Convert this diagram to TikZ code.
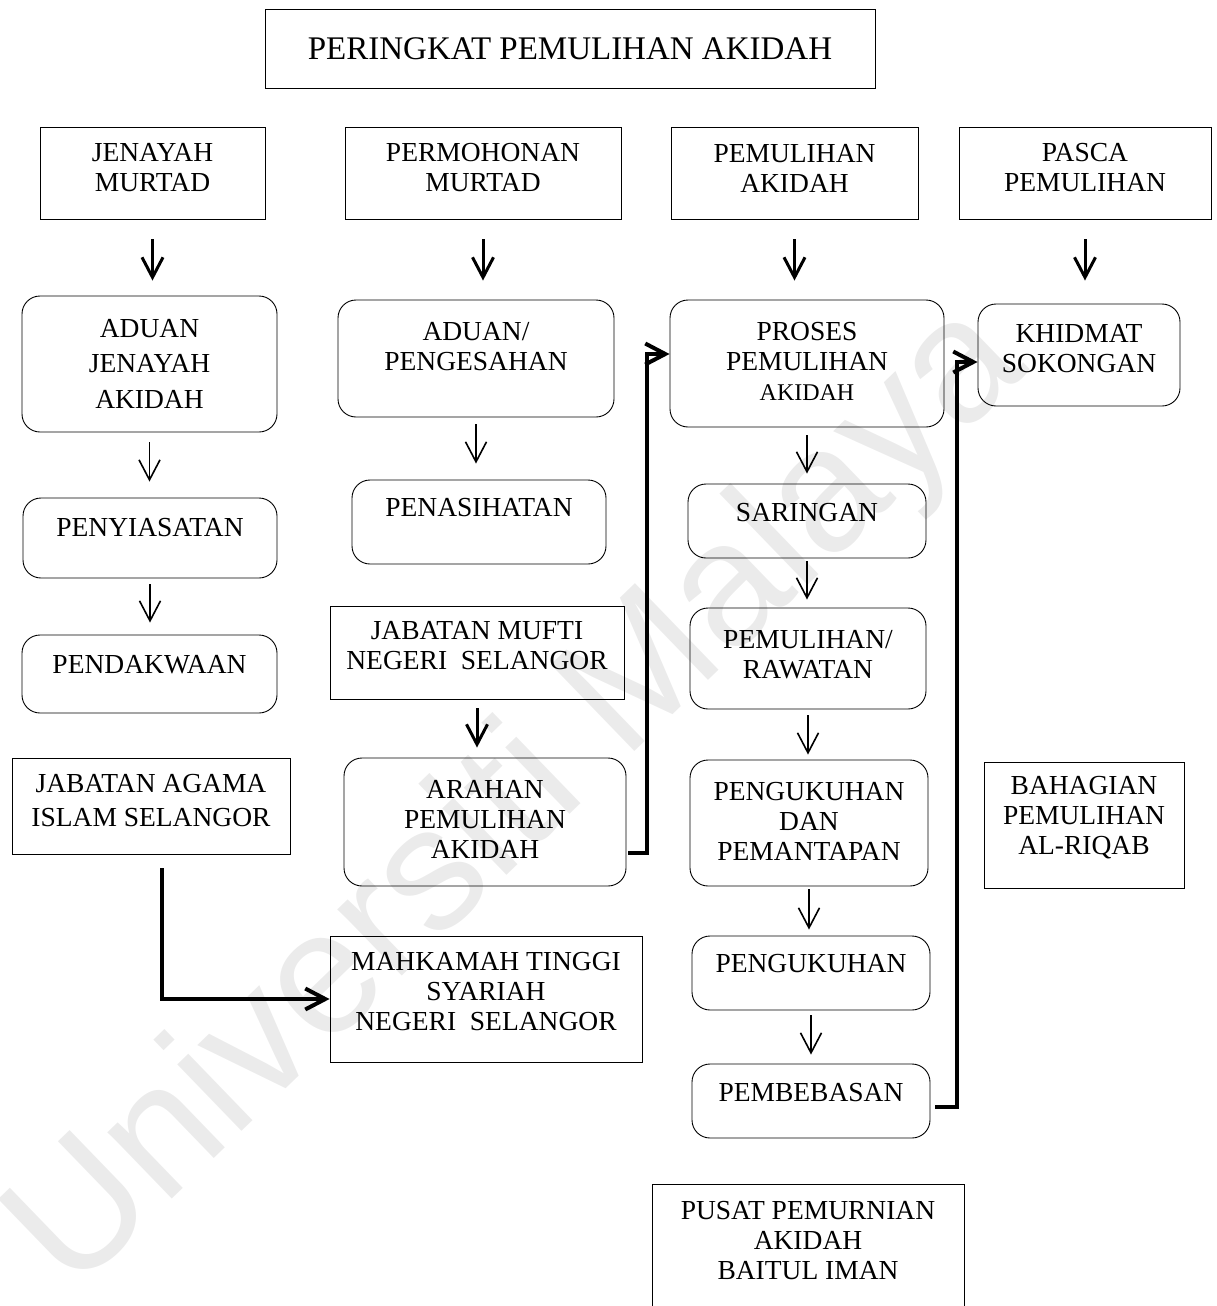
\documentclass[tikz,border=0pt]{standalone}
\usepackage{fontspec}
\setmainfont{Liberation Serif}
\newfontfamily\wmfont{Liberation Sans}
\usetikzlibrary{arrows.meta}
\newcommand{\stagebox}[8]{ % #1: style, #2: name, #3,#4: centre, #5: width, #6: height, #7: y of text, #8: text
  \node[#1, minimum width=#5pt, minimum height=#6pt] (#2) at (#3,#4) {};
  \node[txt] (#2-t) at (#3,#7) {#8};
}
\tikzset{
  stage/.style={draw, rounded corners=18pt, line width=0.9pt},
  office/.style={draw, line width=0.9pt},
  txt/.style={inner sep=0pt, align=center, font=\fontsize{27.5}{30}\selectfont},
  flow/.style={-{Straight Barb[length=20pt,width=21pt]}, line width=1.6pt},
  bigflow/.style={flow, line width=3pt},
  link/.style={flow, line width=4pt}
}

\begin{document}
\begin{tikzpicture}[x=1pt, y=-1pt]
\useasboundingbox (0,0) rectangle (1216,1306);

% Watermark behind everything
\node[text=black!8, font=\wmfont\fontsize{175}{175}\selectfont, rotate=44] (wm) at (520,800) {Universiti Malaya};

% Title
\node[office, minimum width=610pt, minimum height=79pt, font=\fontsize{33}{36}\selectfont] (title) at (570,48.5) {PERINGKAT PEMULIHAN AKIDAH};

% Column headers
\stagebox{office}{jm}{152.5}{173}{225}{92}{168}{JENAYAH\\MURTAD}
\stagebox{office}{pm}{483}{173}{276}{92}{168}{PERMOHONAN\\MURTAD}
\stagebox{office}{pa}{794.5}{173}{247}{92}{168}{PEMULIHAN\\AKIDAH}
\stagebox{office}{pp}{1085}{173}{252}{92}{168}{PASCA\\PEMULIHAN}

% Jenayah murtad
\stagebox{stage}{aduan}{149.5}{364}{255}{136}{363.5}{ADUAN\\[5.5pt]JENAYAH\\[5.5pt]AKIDAH}
\stagebox{stage}{siasat}{150}{538}{254}{80}{528}{PENYIASATAN}
\stagebox{stage}{dakwa}{149.5}{674}{255}{78}{665}{PENDAKWAAN}
\stagebox{office}{jais}{151}{806}{278}{96}{801}{JABATAN AGAMA\\[4pt]ISLAM SELANGOR}

% Permohonan murtad
\stagebox{stage}{aduan2}{476}{358.5}{276}{117}{346.5}{ADUAN/\\PENGESAHAN}
\stagebox{stage}{nasihat}{479}{522}{254}{84}{508}{PENASIHATAN}
\stagebox{office}{mufti}{477}{652.5}{294}{93}{645.5}{JABATAN MUFTI\\NEGERI\ \ SELANGOR}
\stagebox{stage}{arahan}{485}{822}{282}{128}{819.5}{ARAHAN\\PEMULIHAN\\AKIDAH}
\stagebox{office}{mahkamah}{486}{999}{312}{126}{992}{MAHKAMAH TINGGI\\SYARIAH\\NEGERI\ \ SELANGOR}

% Pemulihan akidah
\stagebox{stage}{proses}{807}{363.5}{274}{127}{361.5}{PROSES\\PEMULIHAN\\{\fontsize{24}{27}\selectfont AKIDAH}}
\stagebox{stage}{saring}{807}{521}{238}{74}{513}{SARINGAN}
\stagebox{stage}{rawat}{808}{658.5}{236}{101}{655}{PEMULIHAN/\\RAWATAN}
\stagebox{stage}{mantap}{809}{823}{238}{126}{821}{PENGUKUHAN\\DAN\\PEMANTAPAN}
\stagebox{stage}{kukuh}{811}{973}{238}{74}{964}{PENGUKUHAN}
\stagebox{stage}{bebas}{811}{1101}{238}{74}{1093}{PEMBEBASAN}
\stagebox{office}{pusat}{808}{1257}{312}{146}{1240.5}{PUSAT PEMURNIAN\\AKIDAH\\BAITUL IMAN}

% Pasca pemulihan
\stagebox{stage}{khidmat}{1079}{355}{202}{102}{349}{KHIDMAT\\SOKONGAN}
\stagebox{office}{riqab}{1084}{825}{200}{126}{817.5}{BAHAGIAN\\PEMULIHAN\\AL-RIQAB}

% Arrows under the headers
\foreach \a/\b/\e in {jm/aduan/15, pm/aduan2/19, pa/proses/19, pp/khidmat/23}
  \draw[bigflow, shorten <=20pt, shorten >=\e pt] (\a.south) -- (\a.south |- \b.north);
\draw[bigflow, shorten <=9pt, shorten >=10pt] (mufti.south) -- (mufti.south |- arahan.north);

% Steps inside each column
\foreach \a/\b/\s/\e in {aduan/siasat/10/16, siasat/dakwa/6/12, aduan2/nasihat/7/16,
    proses/saring/8/10, saring/rawat/3/8, rawat/mantap/6/5, mantap/kukuh/3/6, kukuh/bebas/5/9}
  \draw[flow, shorten <=\s pt, shorten >=\e pt] (\a.south) -- (\a.south |- \b.north);

% Links between columns
\draw[link] ([xshift=11pt, yshift=-14pt]jais.south) |- (mahkamah.west);
\draw[link] ([xshift=2pt, yshift=-31pt]arahan.east) -- ++(19,0) |- ([yshift=9.5pt]proses.west);
\draw[link] ([xshift=5pt, yshift=-6pt]bebas.east) -- ++(22,0) |- ([yshift=-7pt]khidmat.west);

\end{tikzpicture}
\end{document}
